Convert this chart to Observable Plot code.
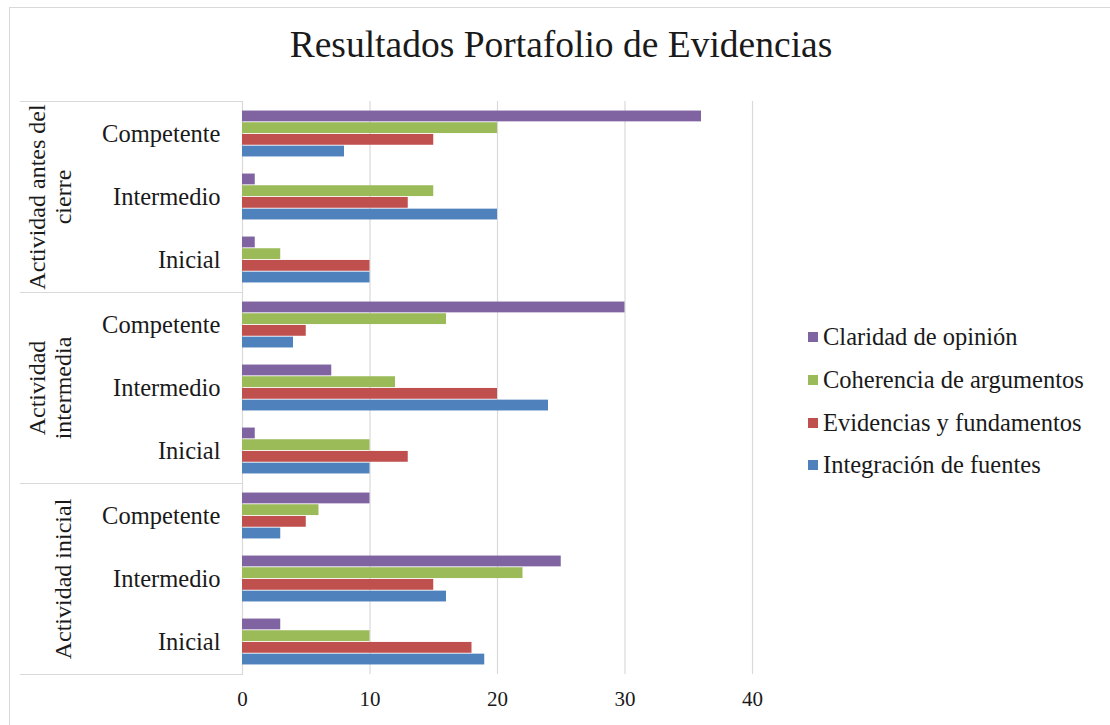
<!DOCTYPE html>
<html>
<head>
<meta charset="utf-8">
<script src="https://cdn.jsdelivr.net/npm/d3@7"></script>
<script src="https://cdn.jsdelivr.net/npm/@observablehq/plot@0.6"></script>
<style>
  html, body { margin: 0; padding: 0; background: #fff; }
  #wrap { position: relative; width: 1110px; height: 725px; overflow: hidden; font-family: "Liberation Serif", serif; color: #1a1a1a; }
  #border { position: absolute; left: 9px; top: 7px; right: -10px; bottom: -10px; border-left: 1.5px solid #d9d9d9; border-top: 1.5px solid #d9d9d9; }
  #title { position: absolute; left: 0; top: 0; width: 1110px; height: 80px; box-sizing: border-box; padding-top: 26px; text-align: center; font-size: 37.5px; line-height: 1; padding-left: 12px; }
  #chart { position: absolute; left: 0; top: 80px; }
  #legend { position: absolute; left: 808px; top: 316px; }
  .item { display: flex; align-items: center; height: 42.7px; font-size: 24.5px; white-space: nowrap; }
  .sw { width: 10px; height: 10px; margin-right: 5px; flex: none; }
</style>
</head>
<body>
<div id="wrap">
  <div id="border"></div>
  <div id="title"></div>
  <div id="chart"></div>
  <div id="legend"></div>
</div>
<script>
const title = "Resultados Portafolio de Evidencias";
const groups = ["Actividad antes del cierre", "Actividad intermedia", "Actividad inicial"];
const groupLabels = ["Actividad antes del\ncierre", "Actividad\nintermedia", "Actividad inicial"];
const levels = ["Competente", "Intermedio", "Inicial"];
const series = ["Claridad de opinión", "Coherencia de argumentos", "Evidencias y fundamentos", "Integración de fuentes"];
const colors = ["#8064A2", "#9BBB59", "#C0504D", "#4F81BD"];
const xTicks = [0, 10, 20, 30, 40];
// values in order: group (antes del cierre, intermedia, inicial) x level (Competente, Intermedio, Inicial)
const claridad    = [36, 1, 1,  30, 7, 1,  10, 25, 3];
const coherencia  = [20, 15, 3, 16, 12, 10, 6, 22, 10];
const evidencias  = [15, 13, 10, 5, 20, 13, 5, 15, 18];
const integracion = [8, 20, 10,  4, 24, 10, 3, 16, 19];

const seriesValues = [claridad, coherencia, evidencias, integracion];
const table = [];
groups.forEach((g, gi) => levels.forEach((l, li) => series.forEach((s, si) => {
  table.push({group: g, groupLabel: groupLabels[gi], level: l, series: s, value: seriesValues[si][gi * 3 + li]});
})));

document.getElementById("title").textContent = title;

const W = 1110, H = 645, mL = 242, mR = 358, mT = 20, mB = 50;
const band = (H - mT - mB) / (groups.length * levels.length);
const barH = 11.7;
const pad = (band - series.length * barH) / 2;
const font = "Liberation Serif, serif";

const marks = [
  Plot.ruleX(xTicks, {stroke: "#d9d9d9", strokeWidth: 1.2}),
  Plot.frame({anchor: "top", stroke: "#d9d9d9", strokeWidth: 1.2, insetLeft: -(mL - 20), insetRight: W - mL - mR}),
  Plot.frame({anchor: "bottom", stroke: "#d9d9d9", strokeWidth: 1.2, insetLeft: -(mL - 20), insetRight: W - mL - mR}),
  ...series.map((s, i) => Plot.barX(table, {
    filter: d => d.series === s,
    x1: 0, x2: "value", y: "level",
    fill: colors[i],
    insetTop: pad + i * barH,
    insetBottom: band - pad - (i + 1) * barH
  })),
  Plot.text(table, {
    filter: d => d.level === "Intermedio" && d.series === series[0],
    y: "level", text: "groupLabel",
    frameAnchor: "left", textAnchor: "middle", lineAnchor: "bottom",
    rotate: -90, dx: -172, fontSize: 24, lineHeight: 1.05, fill: "#1a1a1a"
  }),
  Plot.axisY({tickSize: 0, tickPadding: 22, fontSize: 24.5, label: null, fill: "#1a1a1a"}),
  Plot.axisX({ticks: xTicks, tickSize: 0, tickPadding: 17, fontSize: 21, label: null, fill: "#1a1a1a"})
];

const chart = Plot.plot({
  width: W, height: H,
  marginLeft: mL, marginRight: mR, marginTop: mT, marginBottom: mB,
  style: {fontFamily: font, background: "transparent", overflow: "visible"},
  facet: {data: table, y: "group"},
  fy: {domain: groups, padding: 0, axis: null, label: null},
  y: {domain: levels, padding: 0, axis: null},
  x: {domain: [0, 40], axis: null},
  marks
});
document.getElementById("chart").appendChild(chart);

const legend = document.getElementById("legend");
series.forEach((s, i) => {
  const item = document.createElement("div");
  item.className = "item";
  const sw = document.createElement("span");
  sw.className = "sw";
  sw.style.background = colors[i];
  const t = document.createElement("span");
  t.textContent = s;
  item.appendChild(sw); item.appendChild(t);
  legend.appendChild(item);
});
</script>
</body>
</html>
